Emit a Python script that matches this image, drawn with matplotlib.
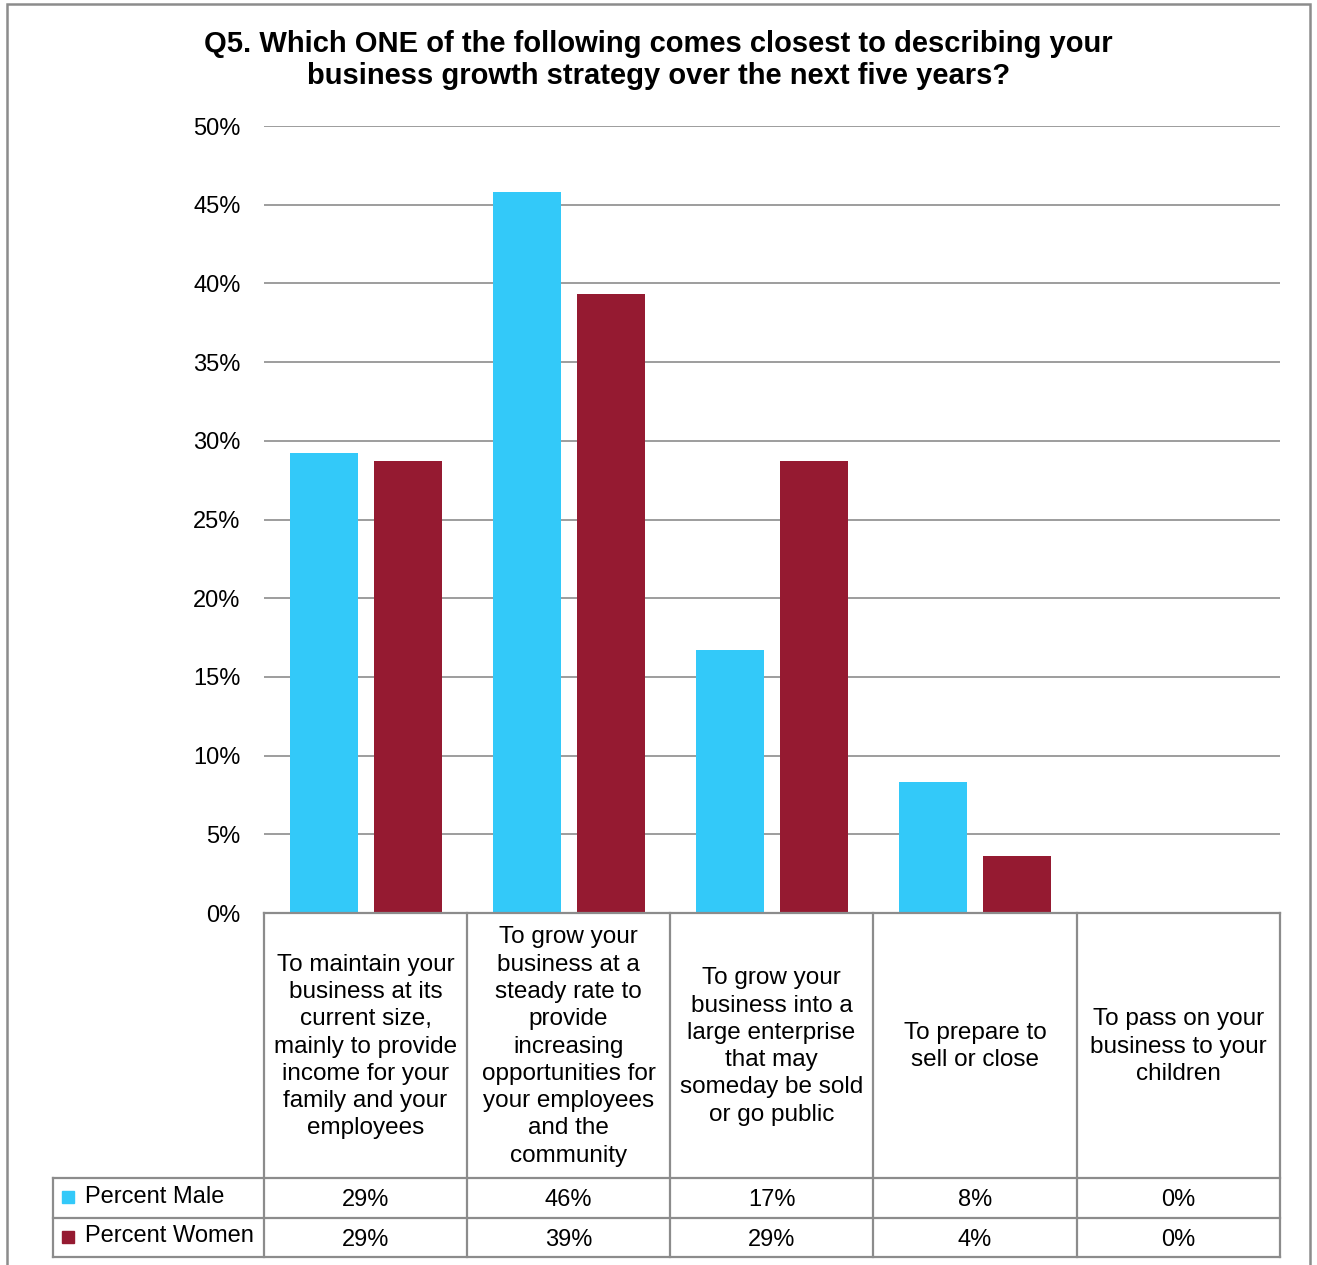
import matplotlib.pyplot as plt
from matplotlib.lines import Line2D
from matplotlib.patches import Rectangle
import numpy as np

plt.rcParams['font.family'] = ['Liberation Sans', 'DejaVu Sans']

# DATA
categories = [
    "To maintain your\nbusiness at its\ncurrent size,\nmainly to provide\nincome for your\nfamily and your\nemployees",
    "To grow your\nbusiness at a\nsteady rate to\nprovide\nincreasing\nopportunities for\nyour employees\nand the\ncommunity",
    "To grow your\nbusiness into a\nlarge enterprise\nthat may\nsomeday be sold\nor go public",
    "To prepare to\nsell or close",
    "To pass on your\nbusiness to your\nchildren",
]
series_names = ["Percent Male", "Percent Women"]
male = [29.2, 45.8, 16.7, 8.3, 0.0]
women = [28.7, 39.3, 28.7, 3.6, 0.0]
yticks = [0, 5, 10, 15, 20, 25, 30, 35, 40, 45, 50]

C_MALE = "#33c9f9"
C_WOMEN = "#951a31"
GRID = "#8c8c8c"
TITLE = ("Q5. Which ONE of the following comes closest to describing your\n"
         "business growth strategy over the next five years?")

W, H = 1317, 1265
fig = plt.figure(figsize=(W / 100, H / 100), dpi=100)


def fx(x):
    return x / W


def fy(y):
    return 1 - y / H


# plot area in pixel layout
X0, X1, Y0, Y1 = 264, 1280, 126, 913
ax = fig.add_axes([fx(X0), fy(Y1), (X1 - X0) / W, (Y1 - Y0) / H])

x = np.arange(len(categories))
bw = 0.335
off = 0.207
ax.bar(x - off, male, bw, color=C_MALE, zorder=3)
ax.bar(x + off, women, bw, color=C_WOMEN, zorder=3)

ax.set_xlim(-0.5, len(categories) - 0.5)
ax.set_ylim(0, 50)
ax.set_yticks(yticks)
ax.set_yticklabels([f"{t}%" for t in yticks], fontsize=17)
ax.tick_params(axis='y', length=0, pad=17)
ax.set_xticks([])
for s in ax.spines.values():
    s.set_visible(False)
for t in yticks[1:]:
    ax.axhline(t, color=GRID, lw=1.2, zorder=1)

fig.text(0.5, fy(60), TITLE, ha='center', va='center', fontsize=21,
         fontweight='bold', linespacing=1.2)

# data table below the plot
col_edges = [264, 467, 670, 873, 1077, 1280]
ROW_TOP, ROW1, ROW2, ROW3 = 913, 1178, 1218, 1257
LEFT = 53


def hline(y, xa, xb):
    fig.add_artist(Line2D([fx(xa), fx(xb)], [fy(y), fy(y)], color=GRID, lw=1.6))


def vline(xp, ya, yb):
    fig.add_artist(Line2D([fx(xp), fx(xp)], [fy(ya), fy(yb)], color=GRID, lw=1.6))


hline(ROW_TOP, col_edges[0], col_edges[-1])
for yy in (ROW1, ROW2, ROW3):
    hline(yy, LEFT, col_edges[-1])
vline(LEFT, ROW1, ROW3)
for xe in col_edges:
    vline(xe, ROW_TOP, ROW3)

for i, lab in enumerate(categories):
    cx = (col_edges[i] + col_edges[i + 1]) / 2
    fig.text(fx(cx), fy((ROW_TOP + ROW1) / 2 + 1), lab, ha='center', va='center',
             fontsize=17.5, linespacing=1.31)
    for vals, r0, r1 in ((male, ROW1, ROW2), (women, ROW2, ROW3)):
        fig.text(fx(cx), fy((r0 + r1) / 2 + 2), f"{vals[i]:.0f}%", ha='center',
                 va='center', fontsize=17)

for name, col, r0, r1 in ((series_names[0], C_MALE, ROW1, ROW2),
                          (series_names[1], C_WOMEN, ROW2, ROW3)):
    cy = (r0 + r1) / 2 - 1
    fig.add_artist(Rectangle((fx(62), fy(cy + 6)), 12 / W, 12 / H, color=col,
                             transform=fig.transFigure))
    fig.text(fx(85), fy(cy), name, ha='left', va='center', fontsize=17)

# outer chart border
fig.add_artist(Rectangle((fx(7), fy(1300)), (1310 - 7) / W, (1300 - 4) / H,
                         fill=False, edgecolor="#8c8c8c", lw=1.8,
                         transform=fig.transFigure))

fig.savefig("out.png", dpi=100)
